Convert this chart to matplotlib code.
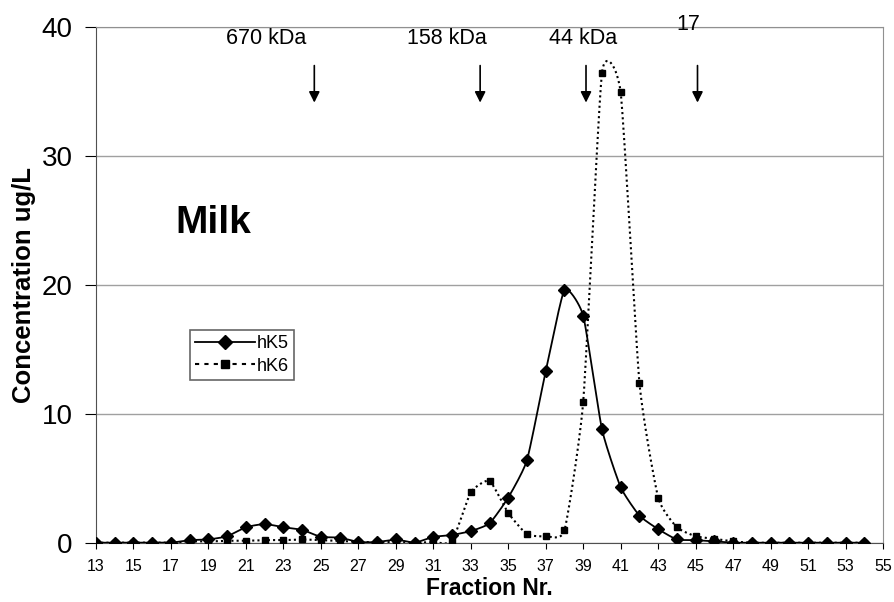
import numpy as np
import matplotlib.pyplot as plt
from matplotlib.lines import Line2D

plt.rcParams['font.family'] = ['Liberation Sans', 'DejaVu Sans']

fractions = list(range(13, 55))
hk5 = [0, 0, 0, 0, 0, 0.2, 0.25, 0.5, 1.2, 1.45, 1.2, 1.0, 0.45, 0.4, 0.05,
       0.05, 0.25, 0.0, 0.45, 0.6, 0.9, 1.5, 3.5, 6.4, 13.3, 19.6, 17.6, 8.8,
       4.3, 2.1, 1.05, 0.25, 0.2, 0.1, 0, 0, 0, 0, 0, 0, 0, 0]
hk6 = [0, 0, 0, 0, 0, 0.1, 0.1, 0.15, 0.15, 0.2, 0.2, 0.25, 0.2, 0.15, 0.05,
       0.05, 0.05, 0.0, 0.05, 0.1, 3.9, 4.8, 2.3, 0.65, 0.5, 0.95, 10.9, 36.4,
       34.9, 12.4, 3.5, 1.2, 0.5, 0.3, 0.1, 0, 0, 0, 0, 0, 0, 0]

# size markers (arrows)
marker_labels = ['670 kDa', '158 kDa', '44 kDa', '17']
marker_pos = [24.65, 33.5, 39.15, 45.1]
label_pos = [22.1, 31.75, 39.0, 44.6]
label_y = [39.1, 39.1, 39.1, 40.2]


def smooth(x, y, c=0.5, n=24):
    # cardinal spline, roughly like excel "smoothed line"
    x = np.asarray(x, float)
    y = np.asarray(y, float)
    mx = np.gradient(x) * c
    my = np.gradient(y) * c
    t = np.linspace(0, 1, n)
    h00 = 2 * t**3 - 3 * t**2 + 1
    h10 = t**3 - 2 * t**2 + t
    h01 = -2 * t**3 + 3 * t**2
    h11 = t**3 - t**2
    xs, ys = [], []
    for i in range(len(x) - 1):
        s = slice(None) if i == 0 else slice(1, None)
        xs.append((h00 * x[i] + h10 * mx[i] + h01 * x[i + 1] + h11 * mx[i + 1])[s])
        ys.append((h00 * y[i] + h10 * my[i] + h01 * y[i + 1] + h11 * my[i + 1])[s])
    return np.concatenate(xs), np.concatenate(ys)


fig = plt.figure(figsize=(8.94, 6.02), dpi=100)
ax = fig.add_axes([0.1074, 0.0985, 0.8803, 0.8572])

sx, sy = smooth(fractions, hk6)
ax.plot(sx, sy, color='black', lw=1.5, linestyle=(0, (1, 1.5)), zorder=3)
ax.plot(fractions, hk6, 's', color='black', ms=5, zorder=4)

sx, sy = smooth(fractions, hk5)
ax.plot(sx, sy, color='black', lw=1.3, zorder=5)
ax.plot(fractions, hk5, 'D', color='black', ms=6.5, zorder=6)

ax.set_xlim(13, 55)
ax.set_ylim(0, 40)
ax.set_xticks(range(13, 56, 2))
ax.set_yticks([0, 10, 20, 30, 40])
ax.tick_params(axis='x', labelsize=11.5, length=4, direction='out', pad=8)
ax.tick_params(axis='y', labelsize=20, length=8, direction='out', pad=9)

ax.yaxis.grid(True, color='#a0a0a0', lw=1)
ax.set_axisbelow(True)
ax.spines['top'].set_color('#909090')
ax.spines['right'].set_color('#909090')
ax.spines['left'].set_color('#505050')
ax.spines['bottom'].set_color('#505050')

ax.set_xlabel('Fraction Nr.', fontsize=16.5, fontweight='bold', labelpad=2)
ax.set_ylabel('Concentration ug/L', fontsize=18.5, fontweight='bold', labelpad=4)

for lab, xp, lx, ly in zip(marker_labels, marker_pos, label_pos, label_y):
    ax.annotate('', xy=(xp, 33.9), xytext=(xp, 37.2),
                arrowprops=dict(arrowstyle='-|>', color='black', lw=1.2,
                                mutation_scale=16))
    ax.text(lx, ly, lab, fontsize=15.5, ha='center', va='center')

ax.text(17.25, 24.0, 'Milk', fontsize=28, fontweight='bold', va='baseline')

handles = [Line2D([], [], color='black', lw=1.3, marker='D', ms=7),
           Line2D([], [], color='black', lw=1.5, linestyle=(0, (2, 2.5)),
                  marker='s', ms=6)]
leg = ax.legend(handles, ['hK5', 'hK6'], loc='lower left',
                bbox_to_anchor=(0.119, 0.315), borderaxespad=0,
                fontsize=13, frameon=True, fancybox=False, handlelength=3.3,
                handletextpad=0.1, labelspacing=0.3, borderpad=0.3)
leg.get_frame().set_edgecolor('#404040')
leg.get_frame().set_linewidth(1.2)

plt.savefig('out.png', dpi=100)
